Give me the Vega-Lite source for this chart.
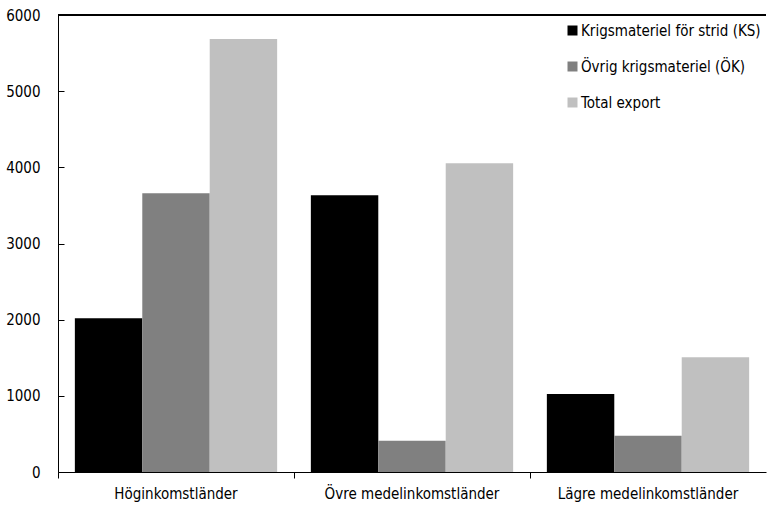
{
  "$schema": "https://vega.github.io/schema/vega-lite/v6.json",
  "width": 767,
  "height": 507,
  "autosize": {"type": "fit", "contains": "padding"},
  "padding": {"top": 8, "left": 5, "right": 0, "bottom": 6},
  "config": {
    "font": "DejaVu Sans Condensed, Roboto, sans-serif",
    "view": {"stroke": null},
    "axis": {"domainColor": "#000000", "tickColor": "#000000", "labelColor": "#000000", "grid": false, "labelFontSize": 15, "domainWidth": 1, "tickWidth": 1}
  },
  "data": {
    "values": [
      {"grupp": "Höginkomstländer", "serie": "Krigsmateriel för strid (KS)", "varde": 2020},
      {"grupp": "Höginkomstländer", "serie": "Övrig krigsmateriel (ÖK)", "varde": 3660},
      {"grupp": "Höginkomstländer", "serie": "Total export", "varde": 5685},
      {"grupp": "Övre medelinkomstländer", "serie": "Krigsmateriel för strid (KS)", "varde": 3635},
      {"grupp": "Övre medelinkomstländer", "serie": "Övrig krigsmateriel (ÖK)", "varde": 410},
      {"grupp": "Övre medelinkomstländer", "serie": "Total export", "varde": 4055},
      {"grupp": "Lägre medelinkomstländer", "serie": "Krigsmateriel för strid (KS)", "varde": 1025},
      {"grupp": "Lägre medelinkomstländer", "serie": "Övrig krigsmateriel (ÖK)", "varde": 475},
      {"grupp": "Lägre medelinkomstländer", "serie": "Total export", "varde": 1505}
    ]
  },
  "layer": [
    {
      "mark": {"type": "bar"},
      "encoding": {
        "x": {
          "field": "grupp", "type": "nominal",
          "sort": ["Höginkomstländer", "Övre medelinkomstländer", "Lägre medelinkomstländer"],
          "scale": {"paddingInner": 0, "paddingOuter": 0},
          "axis": {"title": null, "labelAngle": 0, "bandPosition": 0, "ticks": true, "tickSize": 6, "labelPadding": 8, "labelLimit": 0}
        },
        "xOffset": {
          "field": "serie", "type": "nominal",
          "sort": ["Krigsmateriel för strid (KS)", "Övrig krigsmateriel (ÖK)", "Total export"],
          "scale": {"paddingInner": 0, "paddingOuter": 0.25}
        },
        "y": {
          "field": "varde", "type": "quantitative",
          "scale": {"domain": [0, 6000], "nice": false},
          "axis": {"title": null, "values": [0, 1000, 2000, 3000, 4000, 5000, 6000], "format": "d", "tickSize": -6, "labelPadding": 24}
        },
        "color": {
          "field": "serie", "type": "nominal",
          "scale": {"domain": ["Krigsmateriel för strid (KS)", "Övrig krigsmateriel (ÖK)", "Total export"], "range": ["#000000", "#808080", "#c0c0c0"]},
          "legend": {"title": null, "orient": "none", "legendX": 507, "legendY": 8, "symbolType": "square", "symbolSize": 100, "symbolStrokeWidth": 0, "labelFontSize": 15, "labelColor": "#000000", "labelLimit": 300, "rowPadding": 20, "labelOffset": 1}
        }
      }
    },
    {
      "mark": {"type": "rule", "color": "#000000", "strokeWidth": 1},
      "encoding": {"y": {"datum": 6000}}
    }
  ]
}
